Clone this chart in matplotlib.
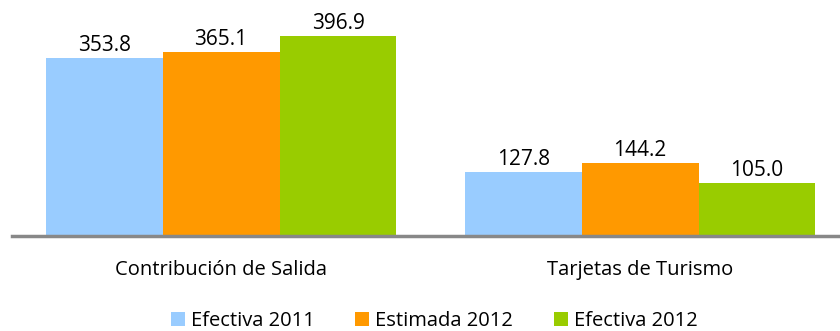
import numpy as np
import matplotlib.pyplot as plt
from matplotlib.patches import Patch

plt.rcParams['font.family'] = ['Open Sans', 'DejaVu Sans']

categories = ["Contribución de Salida", "Tarjetas de Turismo"]
series = ["Efectiva 2011", "Estimada 2012", "Efectiva 2012"]
values = [
    [353.8, 127.8],
    [365.1, 144.2],
    [396.9, 105.0],
]
colors = ["#99ccff", "#ff9900", "#99cc00"]

fig = plt.figure(figsize=(8.4, 3.31), dpi=100)
ax = fig.add_axes([12 / 840, 95 / 331, 828 / 840, 236 / 331])

x = np.arange(len(categories))
width = 0.279
for i, (name, vals, c) in enumerate(zip(series, values, colors)):
    pos = x + (i - 1) * width
    ax.bar(pos, vals, width, color=c, label=name)
    for px, v in zip(pos, vals):
        ax.text(px, v + 4, f"{v:.1f}", ha="center", va="bottom",
                fontsize=15, color="#000000")

ax.set_xlim(-0.499, 1.477)
ax.set_ylim(0, 468)
ax.set_yticks([])
ax.set_xticks([])
for side in ["left", "right", "top"]:
    ax.spines[side].set_visible(False)
ax.spines["bottom"].set_color("#888888")
ax.spines["bottom"].set_linewidth(2.5)

for xi, cat in zip(x, categories):
    ax.text(xi, -68, cat, ha="center", va="center", fontsize=14.5)

handles = [Patch(facecolor=c, label=s) for s, c in zip(series, colors)]
fig.legend(handles=handles, loc="center", bbox_to_anchor=(0.517, 10 / 331),
           ncol=3, frameon=False, fontsize=14.5, handlelength=0.7,
           handleheight=0.7, handletextpad=0.3, columnspacing=2.0)

fig.savefig("out.png", dpi=100)
